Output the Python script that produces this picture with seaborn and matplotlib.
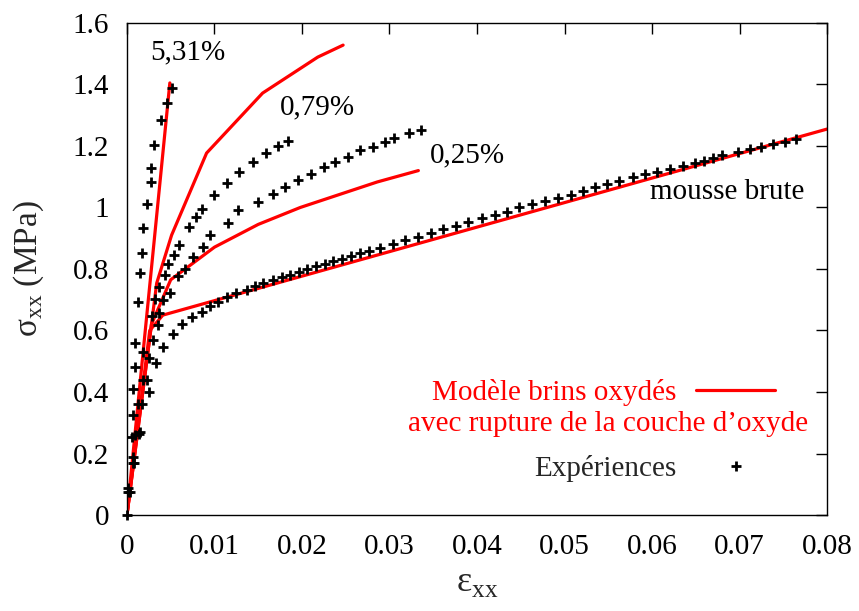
import matplotlib
matplotlib.use("Agg")
import matplotlib.pyplot as plt
from matplotlib.lines import Line2D
from matplotlib.ticker import FuncFormatter, MultipleLocator
import numpy as np
import pandas as pd
import seaborn as sns

# model curves (strain, stress MPa)
brute_mod_eps = [0, 0.0026, 0.0041, 0.08]
brute_mod_sig = [0, 0.60, 0.65, 1.255]
p025_mod_eps = [0, 0.0028, 0.005, 0.010, 0.015, 0.0198, 0.0286, 0.0333]
p025_mod_sig = [0, 0.62, 0.765, 0.871, 0.945, 1.0, 1.083, 1.12]
p079_mod_eps = [0, 0.0028, 0.0034, 0.0051, 0.0091, 0.0155, 0.0218, 0.0247]
p079_mod_sig = [0, 0.62, 0.754, 0.91, 1.177, 1.372, 1.489, 1.528]
p531_mod_eps = [0, 0.0049]
p531_mod_sig = [0, 1.405]

# experiments
p531_exp_eps = [0, 0.0003, 0.0006, 0.0007, 0.0007, 0.0009, 0.0009, 0.0013, 0.0015,
                0.0017, 0.0018, 0.0023, 0.0027, 0.0027, 0.0031, 0.0039, 0.0046, 0.0051]
p531_exp_sig = [0, 0.075, 0.254, 0.325, 0.41, 0.48, 0.56, 0.693, 0.787,
                0.852, 0.933, 1.011, 1.083, 1.128, 1.203, 1.285, 1.34, 1.39]
p079_exp_eps = [0.0001, 0.0007, 0.0015, 0.0017, 0.0023, 0.0025, 0.0030, 0.0029, 0.0032,
                0.0037, 0.0043, 0.0047, 0.0054, 0.0059, 0.0071, 0.0079, 0.0086, 0.0099,
                0.0114, 0.0128, 0.0144, 0.0159, 0.0173, 0.0184]
p079_exp_sig = [0.088, 0.19, 0.27, 0.36, 0.44, 0.51, 0.57, 0.647, 0.702,
                0.741, 0.78, 0.816, 0.846, 0.878, 0.937, 0.969, 0.995, 1.04,
                1.08, 1.115, 1.148, 1.177, 1.2, 1.216]
p025_exp_eps = [0.0007, 0.0009, 0.0013, 0.0018, 0.0018, 0.0035, 0.0037, 0.0041, 0.0049,
                0.0058, 0.0066, 0.0075, 0.0087, 0.0095, 0.0115, 0.0127, 0.0150, 0.0167,
                0.0181, 0.0196, 0.0210, 0.0225, 0.0238, 0.0253, 0.0266, 0.0281, 0.0295,
                0.0305, 0.0322, 0.0336]
p025_exp_sig = [0.17, 0.26, 0.36, 0.44, 0.53, 0.618, 0.657, 0.699, 0.722,
                0.777, 0.80, 0.839, 0.871, 0.911, 0.95, 0.992, 1.018, 1.044,
                1.067, 1.089, 1.109, 1.132, 1.148, 1.164, 1.187, 1.197, 1.213,
                1.226, 1.242, 1.252]
brute_exp_eps = [0.0001, 0.0008, 0.0014, 0.0025, 0.0033, 0.0041, 0.0053, 0.0063, 0.0074,
                 0.0086, 0.0095, 0.0104, 0.0114, 0.0125, 0.0137, 0.0146, 0.0156, 0.0167,
                 0.0177, 0.0186, 0.0197, 0.0206, 0.0216, 0.0226, 0.0235, 0.0246, 0.0256,
                 0.0266, 0.0277, 0.0289, 0.0304, 0.0318, 0.0333, 0.0347, 0.0361, 0.0376,
                 0.0390, 0.0406, 0.0420, 0.0434, 0.0448, 0.0463, 0.0478, 0.0493, 0.0507,
                 0.0521, 0.0535, 0.0549, 0.0562, 0.0578, 0.0592, 0.0606, 0.0621, 0.0635,
                 0.0649, 0.0659, 0.0670, 0.0680, 0.0698, 0.0712, 0.0724, 0.0738, 0.0752,
                 0.0765]
brute_exp_sig = [0.075, 0.17, 0.265, 0.40, 0.494, 0.546, 0.589, 0.621, 0.644,
                 0.66, 0.68, 0.693, 0.709, 0.722, 0.732, 0.745, 0.753, 0.763,
                 0.773, 0.779, 0.789, 0.80, 0.809, 0.817, 0.826, 0.834, 0.843,
                 0.851, 0.86, 0.868, 0.881, 0.894, 0.904, 0.917, 0.93, 0.94,
                 0.953, 0.966, 0.976, 0.985, 1.0, 1.011, 1.021, 1.031, 1.041,
                 1.054, 1.067, 1.076, 1.086, 1.099, 1.109, 1.115, 1.125, 1.135,
                 1.145, 1.151, 1.161, 1.171, 1.18, 1.19, 1.197, 1.207, 1.213,
                 1.223]

# curve labels
curve_labels = ["5,31%", "0,79%", "0,25%", "mousse brute"]
label_eps = [0.0070, 0.0218, 0.0389, 0.0686]
label_sig = [1.506, 1.324, 1.171, 1.05]


def long_frame(pairs):
    frames = []
    for name, e, s in pairs:
        frames.append(pd.DataFrame({"eps": e, "sig": s, "serie": name}))
    return pd.concat(frames, ignore_index=True)


model = long_frame([("brute", brute_mod_eps, brute_mod_sig),
                    ("0.25", p025_mod_eps, p025_mod_sig),
                    ("0.79", p079_mod_eps, p079_mod_sig),
                    ("5.31", p531_mod_eps, p531_mod_sig)])
exp = long_frame([("brute", brute_exp_eps, brute_exp_sig),
                  ("0.25", p025_exp_eps, p025_exp_sig),
                  ("0.79", p079_exp_eps, p079_exp_sig),
                  ("5.31", p531_exp_eps, p531_exp_sig)])

sns.set_theme(style="white")
plt.rcParams["font.family"] = ["Liberation Serif", "DejaVu Serif"]
plt.rcParams["mathtext.fontset"] = "custom"
plt.rcParams["mathtext.rm"] = "Liberation Serif"

FS = 21

fig = plt.figure(figsize=(8.59, 6.11), dpi=100)
ax = fig.add_axes([0.1478, 0.1571, 0.815, 0.8053])

sns.lineplot(data=model, x="eps", y="sig", units="serie", estimator=None,
             sort=False, color="#ff0000", linewidth=2.3, ax=ax, legend=False)
sns.scatterplot(data=exp, x="eps", y="sig", marker="+", color="black",
                s=48, linewidth=2.0, ax=ax, legend=False, zorder=3)
for c in ax.collections:
    c.set_clip_on(False)

for lab, x, y in zip(curve_labels, label_eps, label_sig):
    ax.text(x, y, lab, fontsize=FS, ha="center", va="center", color="black")

ax.set_xlim(0, 0.08)
ax.set_ylim(0, 1.6)
ax.xaxis.set_major_locator(MultipleLocator(0.01))
ax.yaxis.set_major_locator(MultipleLocator(0.2))
fmt = FuncFormatter(lambda v, p: "%g" % round(v, 4))
ax.xaxis.set_major_formatter(fmt)
ax.yaxis.set_major_formatter(fmt)
ax.tick_params(direction="in", length=8, width=1, top=True, right=True,
               labelsize=FS, colors="black")
ax.tick_params(axis="x", pad=14)
ax.tick_params(axis="y", pad=13)
for sp in ax.spines.values():
    sp.set_color("black")
    sp.set_linewidth(1)

ax.set_xlabel("\u03b5$_{\\mathrm{xx}}$", fontsize=26, labelpad=4)
ax.set_ylabel("\u03c3$_{\\mathrm{xx}}$ (MPa)", fontsize=24, labelpad=19)

handles = [Line2D([], [], color="#ff0000", linewidth=2.3),
           Line2D([], [], color="black", marker="+", linestyle="none",
                  markersize=7, markeredgewidth=2.0)]
leg = ax.legend(handles, ["Modèle brins oxydés", "Expériences"],
                loc="upper right", bbox_to_anchor=(0.926, 0.276),
                borderpad=0, borderaxespad=0,
                markerfirst=False, frameon=False, fontsize=FS,
                handlelength=2.7, handletextpad=0.7, labelspacing=1.67)
leg.get_texts()[0].set_color("#ff0000")
ax.text(0.973, 0.185, "avec rupture de la couche d\u2019oxyde", transform=ax.transAxes,
        fontsize=FS, color="#ff0000", ha="right", va="center")

fig.savefig("out.png", dpi=100)
